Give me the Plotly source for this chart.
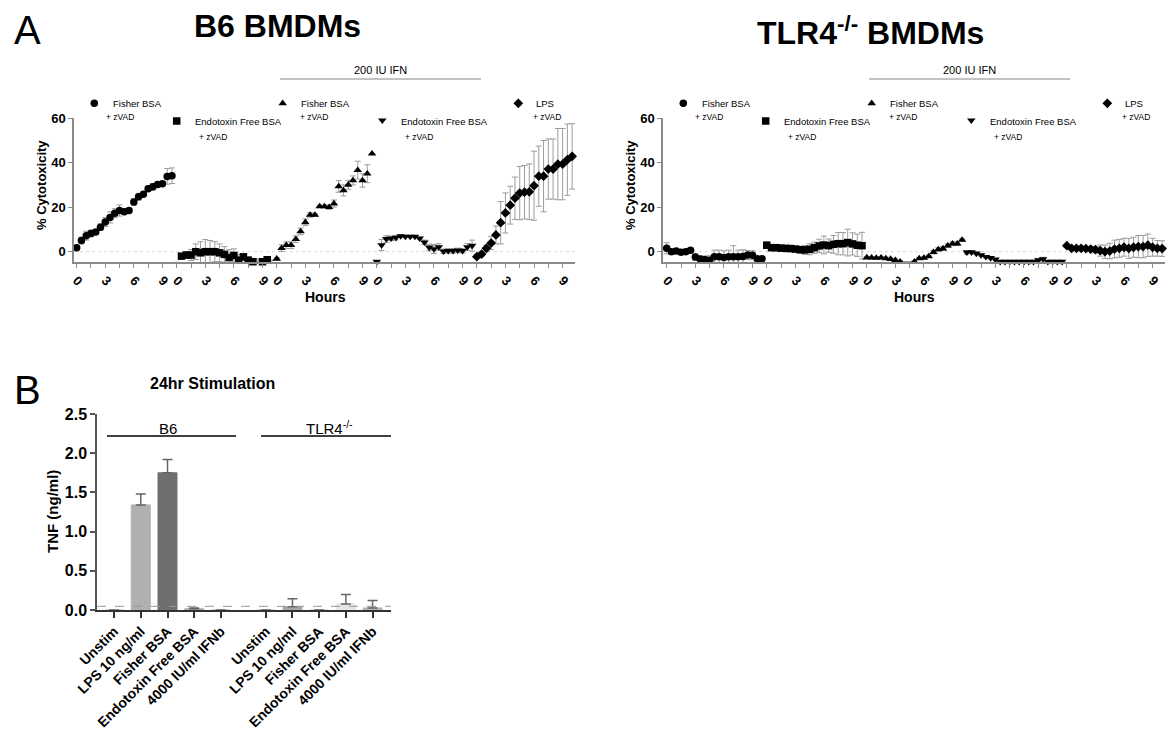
import plotly.graph_objects as go

W, H = 1169, 730
FONT = "Liberation Sans, Arial, sans-serif"


def px(x):
    return x / W


def py(y):
    return 1 - y / H


# ---------------- data: panel A (hours after stimulation) ----------------
hours = [0, 0.5, 1, 1.5, 2, 2.5, 3, 3.5, 4, 4.5, 5, 5.5, 6, 6.5, 7, 7.5, 8, 8.5, 9, 9.5, 10]
segment_len = 10.5
series_names = ["Fisher BSA", "Endotoxin Free BSA", "Fisher BSA", "Endotoxin Free BSA", "LPS"]
series_symbols = ["circle", "square", "triangle-up", "triangle-down", "diamond"]

b6_fisher = [1.8, 5, 7.2, 8.2, 8.8, 11, 13.3, 15.4, 17.3, 18.5, 17.9, 18.5, 22.3, 24.7, 25.8, 28.3, 29.1, 30.2, 30.5, 33.8, 34.1]
b6_fisher_err = [0.6, 1.5, 2, 1.5, 1, 1.5, 2, 2.5, 2, 2.5, 1, 1, 1.5, 1.5, 1, 1, 1.5, 1, 1, 3.5, 3.5]
b6_endo = [-4.8, -2, -1.5, -1.5, 0, -0.5, 0, 0, 0, -0.5, -1.2, -2.6, -1.7, -3.8, -2.3, -3.8, -4.5, -4.8, -4.5, -3.6, -4.7]
b6_endo_err = [0, 1, 1.5, 2.5, 3.5, 5, 5.5, 5, 4.5, 4, 3.5, 3.5, 3, 2.5, 1.5, 1.5, 1.5, 1.5, 1, 1, 1]
b6_fisher_ifn = [-3.2, 1.6, 2.9, 2.9, 5.6, 9.1, 13.2, 16.5, 16.5, 20.3, 20.3, 20, 21.6, 29.3, 27.5, 30, 32, 36.6, 32, 35, 44]
b6_fisher_ifn_err = [0.5, 1.5, 1.5, 1.5, 1.5, 1.5, 1.5, 1, 0.5, 0.5, 0.5, 1, 1.6, 2.6, 2.5, 2, 2, 4, 3, 4, 0]
b6_endo_ifn = [-4.5, 3.0, 5.7, 6.0, 6.3, 7.0, 6.8, 6.8, 6.8, 6.0, 4.2, 1.9, 1.2, 2.1, 0.2, 0.4, 0.4, 0.6, 0.4, 2.1, 2.7]
b6_endo_ifn_err = [0, 2.5, 1.5, 1, 1, 0.5, 0.5, 0.5, 0.5, 0.5, 1, 1.5, 2, 1.5, 1, 1, 1, 1, 1, 1.5, 2.5]
b6_lps = [-2.25, -1.05, 1.5, 3.9, 7.5, 13, 17.4, 20.9, 24, 26.3, 26.7, 26.9, 29.6, 33.9, 33.9, 37.1, 37.1, 39.3, 39.3, 41.3, 42.8]
b6_lps_err = [0.5, 1, 1.5, 3, 4, 9.5, 9, 8.5, 9.5, 12, 12, 12.5, 15.5, 13.5, 16, 13.5, 13.5, 16, 16, 16, 14.7]

tlr4_fisher = [1.5, 0, 0.3, -0.3, 0, 0.6, -2.4, -3.3, -3.5, -3.8, -2.3, -2.3, -2.6, -2.3, -2.3, -2.3, -2.1, -1.5, -1.6, -3.2, -3.2]
tlr4_fisher_err = [2.5, 1, 1, 1, 1, 1, 1.5, 1.5, 1.5, 2, 3, 3, 3, 3, 5, 3, 3, 2, 2, 1, 1]
tlr4_endo = [2.9, 1.8, 1.8, 1.6, 1.5, 1.4, 1.2, 0.9, 0.8, 1.1, 1.8, 2.6, 3.0, 2.7, 3.3, 3.6, 3.6, 4.1, 3.5, 2.9, 2.7]
tlr4_endo_err = [1.5, 1, 1, 1, 1, 1, 1, 1.5, 2, 2.5, 2.5, 3, 4, 3, 4, 5, 5, 6, 5, 5, 6]
tlr4_fisher_ifn = [-2.6, -2.7, -2.8, -2.7, -3.0, -3.3, -3.8, -4.5, -4.9, -4.9, -4.5, -3.0, -2.8, -2.1, -0.2, 1.0, 1.4, 2.7, 3.6, 3.6, 5.3]
tlr4_fisher_ifn_err = [0.5, 0.5, 0.5, 0.5, 0.5, 0.5, 0.5, 0.5, 0.5, 0.5, 0.5, 0.5, 0.5, 0.5, 0.8, 0.8, 0.8, 0.8, 0.8, 0.8, 0.5]
tlr4_endo_ifn = [-0.3, -0.2, -0.8, -1.5, -2.3, -2.8, -3.5, -4.5, -4.5, -4.5, -4.5, -4.5, -4.5, -4.5, -4.5, -3.8, -3.3, -4.5, -4.5, -4.5, -4.5]
tlr4_endo_ifn_err = [0.8, 0.5, 0.5, 0.5, 0.5, 0.5, 0.5, 0.5, 0.5, 0.5, 0.5, 0.5, 0.5, 0.5, 0.5, 0.8, 0.8, 0.5, 0.5, 0.5, 0.5]
tlr4_lps = [2.7, 1.5, 1.5, 1.5, 1.4, 1.2, 0.9, 0.5, 0, 0.3, 1.2, 1.5, 2.0, 1.5, 2.0, 2.3, 2.3, 2.9, 2.0, 1.5, 1.4]
tlr4_lps_err = [0.5, 0.5, 0.5, 0.5, 0.5, 1, 1.5, 2.5, 3, 3.5, 4, 4, 4, 4.5, 4.5, 5, 5, 5, 4, 3.5, 3.5]

b6_series = [(b6_fisher, b6_fisher_err), (b6_endo, b6_endo_err), (b6_fisher_ifn, b6_fisher_ifn_err),
             (b6_endo_ifn, b6_endo_ifn_err), (b6_lps, b6_lps_err)]
tlr4_series = [(tlr4_fisher, tlr4_fisher_err), (tlr4_endo, tlr4_endo_err), (tlr4_fisher_ifn, tlr4_fisher_ifn_err),
               (tlr4_endo_ifn, tlr4_endo_ifn_err), (tlr4_lps, tlr4_lps_err)]

hour_ticks = [0, 1.5, 3, 4.5, 6, 7.5, 9]

# ---------------- data: panel B (TNF, ng/ml) ----------------
tnf_labels = ["Unstim", "LPS 10 ng/ml", "Fisher BSA", "Endotoxin Free BSA", "4000 IU/ml IFNb"]
tnf_b6 = [0, 1.34, 1.75, 0.015, 0]
tnf_b6_err = [0, 0.14, 0.17, 0.01, 0]
tnf_tlr4 = [0, 0.042, 0, 0.077, 0.026]
tnf_tlr4_err = [0, 0.10, 0, 0.12, 0.095]
tnf_b6_colors = ["#ffffff", "#b0b0b0", "#6f6f6f", "#a8a8a8", "#c8c8c8"]
tnf_tlr4_colors = ["#ffffff", "#a8a8a8", "#ffffff", "#e6e6e6", "#b4b4b4"]
tlr4_offset = 5.68

fig = go.Figure()

# ---------------- panel A traces ----------------
panels = [("x", "y", b6_series), ("x2", "y2", tlr4_series)]
for xa, ya, series in panels:
    for k, (vals, errs) in enumerate(series):
        xs = [k * segment_len + h for h in hours]
        fig.add_trace(go.Scatter(
            x=xs, y=vals, mode="markers", xaxis=xa, yaxis=ya,
            marker=dict(symbol=series_symbols[k], size=7.5, color="black"),
            error_y=dict(type="data", array=errs, color="#9c9c9c", thickness=1, width=3),
            cliponaxis=False, showlegend=False, hoverinfo="skip"))

# legend keys (overlay pixel axis)
legend_key_pos = [(94.3, 103.3), (176.7, 121), (282.7, 103.3), (382.3, 120.3), (518.3, 103.3)]
for off in [0, 589]:
    for k, (lx, ly) in enumerate(legend_key_pos):
        fig.add_trace(go.Scatter(
            x=[lx + off], y=[ly], mode="markers", xaxis="x4", yaxis="y4",
            marker=dict(symbol=series_symbols[k], size=7.5, color="black"),
            showlegend=False, hoverinfo="skip", cliponaxis=False))

# ---------------- panel B traces ----------------
x_b6 = list(range(len(tnf_labels)))
x_tlr4 = [tlr4_offset + i for i in range(len(tnf_labels))]


def edge(c):
    return "#cfcfcf" if c == "#ffffff" else c


fig.add_trace(go.Bar(
    x=x_b6, y=tnf_b6, width=0.71, xaxis="x3", yaxis="y3",
    marker=dict(color=tnf_b6_colors, line=dict(color=[edge(c) for c in tnf_b6_colors], width=1)),
    error_y=dict(type="data", array=tnf_b6_err, arrayminus=[0] * 5, symmetric=False,
                 color="#666666", thickness=1.5, width=5),
    showlegend=False, hoverinfo="skip"))
fig.add_trace(go.Bar(
    x=x_tlr4, y=tnf_tlr4, width=0.71, xaxis="x3", yaxis="y3",
    marker=dict(color=tnf_tlr4_colors, line=dict(color=[edge(c) for c in tnf_tlr4_colors], width=1)),
    error_y=dict(type="data", array=tnf_tlr4_err, arrayminus=[0] * 5, symmetric=False,
                 color="#666666", thickness=1.5, width=5),
    showlegend=False, hoverinfo="skip"))

# ---------------- axes ----------------
tickvals_a, ticktext_a = [], []
for k in range(5):
    for t in hour_ticks:
        tickvals_a.append(k * segment_len + t)
        ticktext_a.append(str(int(t)) if t % 3 == 0 else "")

axis_grey = "#8a8a8a"
xa_common = dict(tickvals=tickvals_a, ticktext=ticktext_a, tickangle=45, ticks="outside", ticklen=4,
                 tickcolor=axis_grey, tickwidth=1.2, showline=True, linecolor=axis_grey, linewidth=1.5,
                 showgrid=False, zeroline=False, automargin=False,
                 tickfont=dict(family=FONT, size=13, color="black", weight="bold"))
ya_common = dict(range=[-4.62, 60], tickvals=[0, 20, 40, 60], ticks="outside", ticklen=4,
                 tickcolor=axis_grey, tickwidth=1.2, showline=True, linecolor=axis_grey, linewidth=1.5,
                 showgrid=False, zeroline=False, automargin=False,
                 tickfont=dict(family=FONT, size=13, color="black", weight="bold"))

fig.update_layout(
    template="none",
    width=W, height=H, margin=dict(l=0, r=0, t=0, b=0, autoexpand=False),
    paper_bgcolor="white", plot_bgcolor="rgba(0,0,0,0)",
    font=dict(family=FONT, color="black"),
    xaxis=dict(domain=[px(74), px(575)], range=[-0.28, 52.3], anchor="y", **xa_common),
    yaxis=dict(domain=[py(262), py(118)], anchor="x", **ya_common),
    xaxis2=dict(domain=[px(663), px(1165)], range=[-0.39, 52.3], anchor="y2", **xa_common),
    yaxis2=dict(domain=[py(262), py(118)], anchor="x2", **ya_common),
    xaxis3=dict(domain=[px(97), px(391)], range=[-0.64, 10.37], anchor="y3",
                tickvals=x_b6 + x_tlr4, ticktext=tnf_labels + tnf_labels, tickangle=-45,
                ticks="outside", ticklen=6, tickcolor="#333333", tickwidth=1.5, automargin=False,
                showline=True, linecolor="#333333", linewidth=1.5, showgrid=False, zeroline=False,
                tickfont=dict(family=FONT, size=14, color="black", weight="bold")),
    yaxis3=dict(domain=[py(610), py(414)], range=[0, 2.5], anchor="x3",
                tickvals=[0, 0.5, 1.0, 1.5, 2.0, 2.5], tickformat=".1f", automargin=False,
                ticks="outside", ticklen=5, tickcolor="#555555", tickwidth=1.5,
                showline=True, linecolor="#555555", linewidth=1.5, showgrid=False, zeroline=False,
                tickfont=dict(family=FONT, size=16, color="black", weight="bold")),
    xaxis4=dict(domain=[0, 1], range=[0, W], visible=False, fixedrange=True, anchor="y4", automargin=False),
    yaxis4=dict(domain=[0, 1], range=[H, 0], visible=False, fixedrange=True, anchor="x4", automargin=False),
)

# ---------------- shapes ----------------
shapes = []
for xr, yr in [("x domain", "y"), ("x2 domain", "y2")]:
    shapes.append(dict(type="line", xref=xr, yref=yr, x0=0, x1=1, y0=0, y1=0,
                       line=dict(color="#d8d8d8", width=1, dash="dot"), layer="below"))
for off in [0, 589]:
    shapes.append(dict(type="line", xref="paper", yref="paper", x0=px(280 + off), x1=px(481 + off),
                       y0=py(79), y1=py(79), line=dict(color="#888888", width=1.2)))
shapes.append(dict(type="line", xref="paper", yref="paper", x0=px(107), x1=px(236), y0=py(436), y1=py(436),
                   line=dict(color="black", width=1.5)))
shapes.append(dict(type="line", xref="paper", yref="paper", x0=px(261), x1=px(391), y0=py(436), y1=py(436),
                   line=dict(color="black", width=1.5)))
shapes.append(dict(type="line", xref="x3 domain", yref="y3", x0=0, x1=1, y0=0.047, y1=0.047,
                   line=dict(color="#999999", width=1, dash="dash")))
fig.update_layout(shapes=shapes)

# ---------------- annotations ----------------
ann = []


def text(x, y, s, size, bold=False, xanchor="center", color="black", angle=0):
    ann.append(dict(x=px(x), y=py(y), xref="paper", yref="paper", text=s, showarrow=False,
                    xanchor=xanchor, yanchor="middle", textangle=angle,
                    font=dict(family=FONT, size=size, color=color, weight="bold" if bold else "normal")))


text(27, 30, "A", 40)
text(27, 390, "B", 40)
text(277, 26, "B6 BMDMs", 32, bold=True)
text(870, 31, "TLR4<sup>-/-</sup> BMDMs", 32, bold=True)
text(325, 297, "Hours", 14, bold=True)
text(914, 297, "Hours", 14, bold=True)
text(41, 185, "% Cytotoxicity", 13, bold=True, angle=-90)
text(630, 185, "% Cytotoxicity", 13, bold=True, angle=-90)

legend_label_pos = [(110.5, 103.3, 104, 117.3), (193.3, 121, 197.3, 137), (299.3, 103.3, 297.7, 117.3),
                    (399.3, 121, 402.7, 137.3), (534.3, 103.3, 531, 117.3)]
for off in [0, 589]:
    for k, (tx, ty, zx, zy) in enumerate(legend_label_pos):
        text(tx + off, ty, series_names[k], 9.5, xanchor="left")
        text(zx + off, zy, "+ zVAD", 8.5, xanchor="left")
    text(380.5 + off, 70, "200 IU IFN", 11)

text(212, 383, "24hr Stimulation", 16, bold=True)
text(52, 512, "TNF (ng/ml)", 15, bold=True, angle=-90)
text(168, 428, "B6", 15)
text(330, 427, "TLR4<sup>-/-</sup>", 15)

fig.update_layout(annotations=ann)

fig.write_html("out.html", config={"displayModeBar": False},
               post_script="document.body.style.margin='0';")
